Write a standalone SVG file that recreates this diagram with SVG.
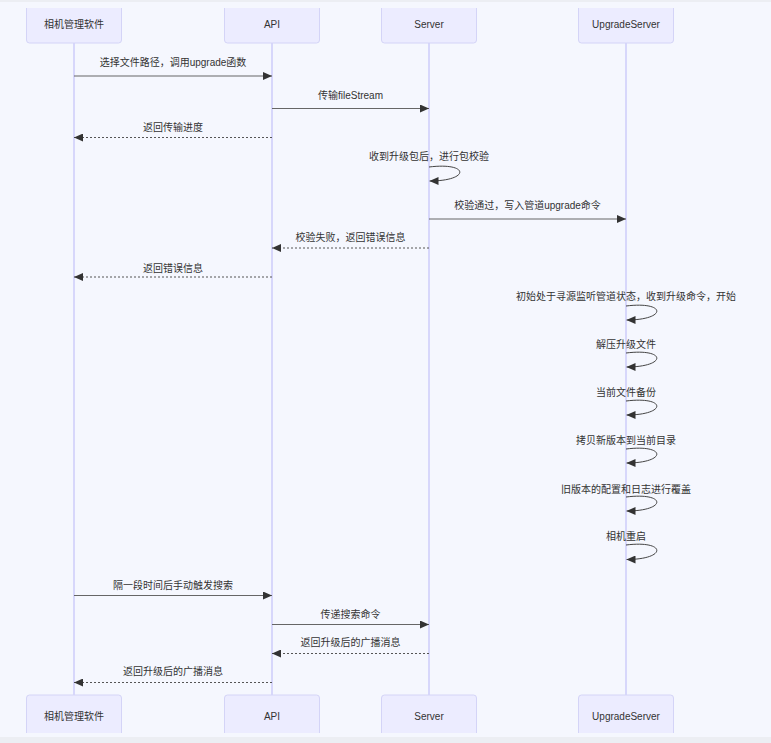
<svg xmlns="http://www.w3.org/2000/svg" width="771" height="743" viewBox="0 0 771 743">
<style>
text{font-family:"Liberation Sans","Noto Sans CJK SC",sans-serif;font-size:10px;fill:#333;text-anchor:middle;dominant-baseline:central}
.actor{fill:#ececff;stroke:#d4d4f7;stroke-width:1}
.life{stroke:#ccccfa;stroke-width:1.5}
.msg{stroke:#666;stroke-width:1.2;fill:none}
.dot{stroke:#555;stroke-width:1;fill:none;stroke-dasharray:2,2}
.loop{stroke:#444;stroke-width:1;fill:none}
</style>
<defs>
<marker id="ah" markerUnits="userSpaceOnUse" markerWidth="9" markerHeight="8" refX="9" refY="4" orient="auto">
<path d="M0,0 L9,4 L0,8 z" fill="#333"/>
</marker>
</defs>
<rect x="0" y="0" width="771" height="743" fill="#f5f7fe"/>
<g id="lifelines">
<line class="life" x1="74" y1="43" x2="74" y2="695"/>
<line class="life" x1="272" y1="43" x2="272" y2="695"/>
<line class="life" x1="429" y1="43" x2="429" y2="695"/>
<line class="life" x1="626" y1="43" x2="626" y2="695"/>
</g>
<g id="actor-camera-top"><rect class="actor" x="26.5" y="2" width="95" height="41" rx="3"/><text x="74" y="24">相机管理软件</text></g>
<g id="actor-api-top"><rect class="actor" x="224.5" y="2" width="95" height="41" rx="3"/><text x="272" y="24">API</text></g>
<g id="actor-server-top"><rect class="actor" x="381.5" y="2" width="95" height="41" rx="3"/><text x="429" y="24">Server</text></g>
<g id="actor-upgrade-top"><rect class="actor" x="578.5" y="2" width="95" height="41" rx="3"/><text x="626" y="24">UpgradeServer</text></g>
<g id="actor-camera-bottom"><rect class="actor" x="26.5" y="695" width="95" height="44" rx="3"/><text x="74" y="716">相机管理软件</text></g>
<g id="actor-api-bottom"><rect class="actor" x="224.5" y="695" width="95" height="44" rx="3"/><text x="272" y="716">API</text></g>
<g id="actor-server-bottom"><rect class="actor" x="381.5" y="695" width="95" height="44" rx="3"/><text x="429" y="716">Server</text></g>
<g id="actor-upgrade-bottom"><rect class="actor" x="578.5" y="695" width="95" height="44" rx="3"/><text x="626" y="716">UpgradeServer</text></g>
<rect x="0" y="0" width="771" height="8" fill="#f5f7fe"/>
<rect x="0" y="0" width="771" height="2" fill="#eceef3"/>
<rect x="0" y="733" width="771" height="4" fill="#f5f7fe"/>
<rect x="0" y="737" width="771" height="6" fill="#eceef3"/>
<g id="connectors">
<line class="msg" x1="74" y1="76" x2="272" y2="76" marker-end="url(#ah)"/>
<line class="msg" x1="272" y1="108.5" x2="429" y2="108.5" marker-end="url(#ah)"/>
<line class="dot" x1="272" y1="137.5" x2="74" y2="137.5" marker-end="url(#ah)"/>
<path class="loop" d="M429,167 C470,162 470,181 429.5,181" marker-end="url(#ah)"/>
<line class="msg" x1="429" y1="219" x2="626" y2="219" marker-end="url(#ah)"/>
<line class="dot" x1="429" y1="248" x2="272" y2="248" marker-end="url(#ah)"/>
<line class="dot" x1="272" y1="277" x2="74" y2="277" marker-end="url(#ah)"/>
<path class="loop" d="M626,306 C667,301 667,320 626.5,320" marker-end="url(#ah)"/>
<path class="loop" d="M626,353 C667,348 667,367 626.5,367" marker-end="url(#ah)"/>
<path class="loop" d="M626,401 C667,396 667,415 626.5,415" marker-end="url(#ah)"/>
<path class="loop" d="M626,449 C667,444 667,463 626.5,463" marker-end="url(#ah)"/>
<path class="loop" d="M626,497 C667,492 667,511 626.5,511" marker-end="url(#ah)"/>
<path class="loop" d="M626,545 C667,540 667,559.5 626.5,559.5" marker-end="url(#ah)"/>
<line class="msg" x1="74" y1="595.5" x2="272" y2="595.5" marker-end="url(#ah)"/>
<line class="msg" x1="272" y1="624.5" x2="429" y2="624.5" marker-end="url(#ah)"/>
<line class="dot" x1="429" y1="653.5" x2="272" y2="653.5" marker-end="url(#ah)"/>
<line class="dot" x1="272" y1="682.5" x2="74" y2="682.5" marker-end="url(#ah)"/>
</g>
<g id="labels">
<text x="173" y="62">选择文件路径，调用upgrade函数</text>
<text x="350.5" y="95">传输fileStream</text>
<text x="173" y="127.5">返回传输进度</text>
<text x="429" y="156">收到升级包后，进行包校验</text>
<text x="527.5" y="205">校验通过，写入管道upgrade命令</text>
<text x="350.5" y="237">校验失败，返回错误信息</text>
<text x="173" y="268">返回错误信息</text>
<text x="626" y="296.5">初始处于寻源监听管道状态，收到升级命令，开始</text>
<text x="626" y="344">解压升级文件</text>
<text x="626" y="392">当前文件备份</text>
<text x="626" y="440.5">拷贝新版本到当前目录</text>
<text x="626" y="489">旧版本的配置和日志进行覆盖</text>
<text x="626" y="536.5">相机重启</text>
<text x="173" y="585.5">隔一段时间后手动触发搜索</text>
<text x="350.5" y="614">传递搜索命令</text>
<text x="350.5" y="642.5">返回升级后的广播消息</text>
<text x="173" y="671.5">返回升级后的广播消息</text>
</g>
</svg>
